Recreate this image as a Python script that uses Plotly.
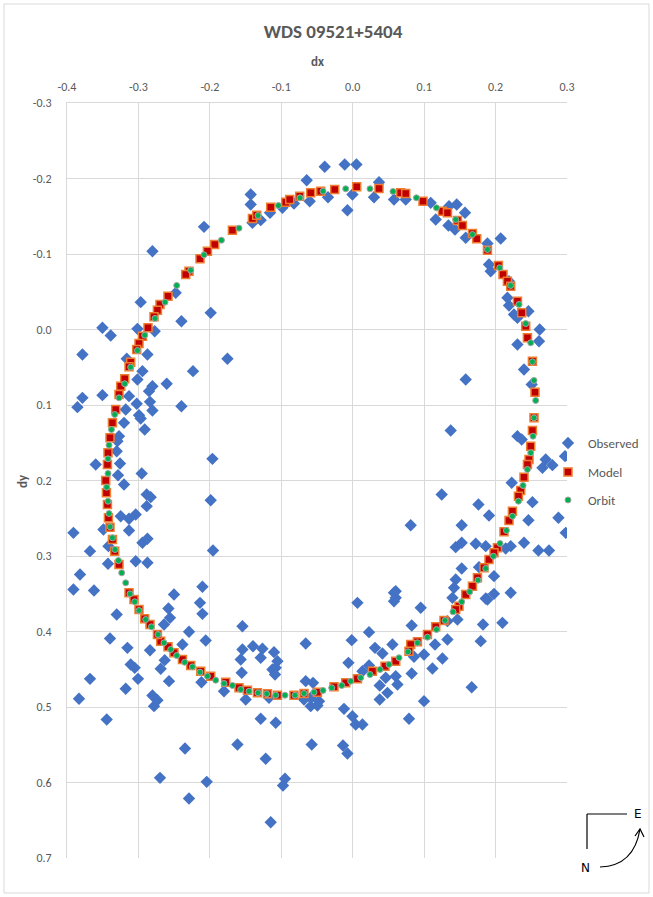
import plotly.graph_objects as go

# ---------------- data ----------------
obs_dx = [-0.2082,-0.2804,-0.2968,-0.1988,-0.2398,-0.3504,-0.3388,-0.3014,-0.2772,-0.3784,
          -0.2874,-0.3164,-0.1754,-0.2236,-0.2944,-0.3014,-0.2804,-0.2604,-0.2852,-0.3504,
          -0.3784,-0.3132,-0.2478,
          -0.0392,-0.0112,0.0052,-0.0644,-0.1428,-0.1428,-0.0074,-0.0346,-0.0004,-0.0602,
          0.0368,0.0298,0.0578,-0.1158,-0.1404,-0.1288,-0.0984,-0.0822,
          0.1456,0.1572,0.1348,0.1162,0.1340,0.1432,0.1582,0.1886,0.2072,0.0742,0.1092,
          0.1908,0.1932,0.2188,0.2166,0.2188,0.2258,0.2460,0.2618,0.2608,0.2306,0.2398,
          0.1582,0.2506,0.2306,
          -0.3854,-0.3024,-0.3178,-0.2838,-0.2804,-0.2992,-0.2968,-0.2398,-0.3202,-0.2912,
          -0.3272,-0.3294,-0.3304,-0.1964,-0.3598,-0.3258,-0.2954,-0.3286,-0.3202,-0.2884,
          -0.2828,-0.2884,-0.1988,-0.3248,-0.3132,-0.3038,-0.3910,-0.3490,-0.3132,-0.2944,
          -0.2874,-0.3678,-0.3420,-0.1956,-0.3426,-0.3038,-0.2874,-0.3818,-0.3910,-0.3622,
          -0.2104,-0.2502,-0.2138,-0.2580,-0.2104,-0.3304,-0.2642,-0.2558,-0.2292,-0.3398,
          -0.2058,
          -0.3154,-0.2838,-0.2384,-0.2632,-0.2688,-0.3108,-0.3052,-0.3006,-0.3678,-0.3178,
          -0.2572,-0.2118,-0.1802,-0.3832,-0.2804,-0.2734,-0.2782,-0.3444,-0.2348,-0.2698,
          -0.2044,-0.2292,
          0.1372,0.2306,0.2366,0.2702,0.2656,0.2796,0.2972,0.2226,0.1246,0.1760,0.2516,
          0.1908,0.0812,0.1526,0.2460,0.2880,0.2982,0.1442,0.1526,0.1722,0.1862,0.2142,
          0.2212,0.2398,0.2600,0.2748,0.1526,0.1768,0.1978,0.1442,0.1418,0.1396,0.1862,
          0.1978,0.2212,0.0952,0.0602,0.0602,0.1466,0.1326,0.0826,0.1824,0.2096,0.1326,
          0.1792,0.1886,
          0.1152,0.0998,0.1256,0.0858,0.1116,0.0826,0.0602,0.0626,0.1666,0.0998,0.0788,
          0.0066,0.0578,-0.1544,0.0228,-0.0658,-0.0014,-0.1544,-0.1396,-0.1264,-0.1102,
          -0.1568,-0.1288,-0.1054,-0.1078,-0.1124,-0.1088,-0.1554,-0.0060,0.0312,0.0416,
          0.0556,0.0228,-0.0658,-0.0556,0.0136,0.0462,0.0378,0.0486,0.0378,-0.1498,
          -0.1172,-0.0588,-0.0472,-0.0588,-0.0494,-0.0682,-0.0122,-0.0004,0.0042,0.0136,
          -0.1288,-0.1078,-0.1614,-0.0574,-0.0136,-0.0074,-0.1218,-0.0948,-0.0976,-0.1148,
          0.0578]
obs_dy = [-0.1360,-0.1037,-0.0362,-0.0221,-0.0110,-0.0023,0.0079,-0.0009,0.0023,0.0331,
          0.0331,0.0388,0.0388,0.0552,0.0552,0.0662,0.0751,0.0719,0.0817,0.0870,
          0.0905,0.0883,-0.0486,
          -0.2155,-0.2185,-0.2185,-0.1977,-0.1788,-0.1656,-0.1580,-0.1752,-0.1788,-0.1699,
          -0.1951,-0.1752,-0.1722,-0.1546,-0.1413,-0.1448,-0.1612,-0.1669,
          -0.1656,-0.1546,-0.1633,-0.1457,-0.1377,-0.1325,-0.1215,-0.1139,-0.1205,-0.1722,-0.1678,
          -0.0861,-0.0772,-0.0640,-0.0420,-0.0318,-0.0199,-0.0242,0.0000,0.0155,0.0199,0.0530,
          0.0662,0.0728,-0.0155,
          0.1029,0.0984,0.1060,0.0958,0.1073,0.1135,0.1179,0.1016,0.1236,0.1325,
          0.1413,0.1479,0.1612,0.1713,0.1788,0.1775,0.1907,0.1930,0.2053,0.2185,
          0.2221,0.2340,0.2261,0.2473,0.2507,0.2450,0.2693,0.2649,0.2662,0.2825,
          0.2772,0.2936,0.2870,0.2927,0.3103,0.3069,0.3090,0.3245,0.3444,0.3457,
          0.3408,0.3510,0.3620,0.3695,0.3766,0.3775,0.3907,0.3819,0.4004,0.4093,
          0.4119,
          0.4216,0.4248,0.4172,0.4380,0.4494,0.4437,0.4481,0.4627,0.4627,0.4759,
          0.4658,0.4672,0.4791,0.4891,0.4848,0.4910,0.4989,0.5166,0.5550,0.5938,
          0.5991,0.6212,
          0.1338,0.1413,0.1457,0.1722,0.1832,0.1797,0.1678,0.2030,0.2185,0.2318,0.2287,
          0.2464,0.2592,0.2592,0.2526,0.2494,0.2693,0.2883,0.2825,0.2838,0.2870,0.2900,
          0.2870,0.2825,0.2927,0.2927,0.3165,0.3148,0.3267,0.3311,0.3421,0.3554,0.3563,
          0.3501,0.3487,0.3686,0.3466,0.3554,0.3841,0.3863,0.3920,0.3907,0.3885,0.4106,
          0.4128,0.3576,
          0.4172,0.4305,0.4358,0.4335,0.4490,0.4556,0.4592,0.4702,0.4738,0.4923,0.5156,
          0.3620,0.3599,0.3930,0.4009,0.4159,0.4115,0.4238,0.4195,0.4229,0.4274,
          0.4371,0.4348,0.4393,0.4481,0.4503,0.4570,0.4547,0.4415,0.4216,0.4291,
          0.4172,0.4450,0.4658,0.4680,0.4526,0.4613,0.4715,0.4812,0.4901,0.4901,
          0.4878,0.4878,0.4923,0.4989,0.4980,0.4901,0.5024,0.5122,0.5232,0.5232,
          0.5156,0.5209,0.5497,0.5497,0.5510,0.5616,0.5686,0.5951,0.6040,0.6526,
          0.3487]

model_dx = [-0.1684,-0.1932,-0.2034,-0.2138,-0.2292,-0.2338,-0.2586,-0.2698,-0.2734,-0.2782,
            -0.2866,-0.2944,-0.2992,-0.3024,-0.3108,-0.3132,-0.3192,-0.3248,-0.3272,
            -0.1404,-0.1344,-0.1148,-0.0938,-0.0882,-0.0742,-0.0588,-0.0448,-0.0252,0.0056,
            0.0368,0.0672,0.0742,
            0.0984,0.1256,0.1326,0.1466,0.1536,0.1676,0.1736,0.1886,0.2040,0.2104,0.2166,
            0.2212,0.2306,0.2366,0.2422,0.2446,0.2516,0.2552,
            0.2538,0.2516,0.2492,0.2468,0.2446,0.2398,0.2352,0.2320,0.2236,0.2188,0.2118,
            0.2026,0.1978,0.1908,0.1838,0.1746,0.1676,0.1582,0.1488,0.1442,0.1278,0.1162,
            0.1046,0.0906,0.0812,
            -0.2688,-0.2586,-0.2502,-0.2384,-0.2268,-0.2128,-0.1988,-0.1778,-0.1592,-0.1474,
            -0.1334,-0.1194,-0.1054,-0.0822,-0.0682,-0.0494,-0.0262,-0.0098,0.0066,0.0276,
            0.0452,0.0602,0.0788,
            -0.3318,-0.3364,-0.3398,-0.3426,-0.3434,-0.3458,-0.3448,-0.3434,-0.3420,-0.3398,
            -0.3364,-0.3332,-0.3272,-0.3132,-0.3062,-0.2992,-0.2912,-0.2838,-0.2734]
model_dy = [-0.1315,-0.1126,-0.1037,-0.0936,-0.0772,-0.0728,-0.0441,-0.0331,-0.0256,-0.0168,
            -0.0023,0.0089,0.0185,0.0265,0.0433,0.0494,0.0653,0.0751,0.0861,
            -0.1470,-0.1514,-0.1620,-0.1686,-0.1722,-0.1766,-0.1811,-0.1832,-0.1854,-0.1890,
            -0.1868,-0.1811,-0.1801,
            -0.1699,-0.1567,-0.1546,-0.1444,-0.1377,-0.1272,-0.1201,-0.1050,-0.0848,-0.0728,-0.0640,
            -0.0574,-0.0375,-0.0221,-0.0044,0.0110,0.0420,0.0830,
            0.1170,0.1338,0.1546,0.1722,0.1788,0.1956,0.2132,0.2208,0.2407,0.2530,0.2679,
            0.2891,0.2958,0.3046,0.3156,0.3289,0.3400,0.3510,0.3665,0.3709,0.3854,0.3938,
            0.4040,0.4136,0.4172,
            0.4128,0.4203,0.4282,0.4371,0.4450,0.4526,0.4592,0.4672,0.4746,0.4777,
            0.4812,0.4825,0.4844,0.4844,0.4821,0.4804,0.4732,0.4680,0.4627,0.4526,
            0.4460,0.4393,0.4261,
            0.1060,0.1236,0.1434,0.1633,0.1788,0.2000,0.2163,0.2318,0.2494,0.2619,
            0.2781,0.2936,0.3113,0.3487,0.3576,0.3709,0.3832,0.3907,0.4040]

orbit_dx = [-0.1838,-0.2082,-0.2268,-0.2464,-0.2628,-0.2768,-0.2912,-0.3014,-0.3108,-0.3192,-0.3272,
            -0.1592,-0.1326,-0.1040,-0.0738,-0.0416,-0.0098,0.0242,0.0564,
            0.0892,0.1172,0.1442,0.1676,0.1886,0.2058,0.2212,0.2328,0.2422,0.2492,0.2516,0.2538,
            0.2562,0.2538,0.2524,0.2492,0.2446,0.2384,0.2320,0.2236,0.2152,0.2062,0.1970,
            0.1862,0.1754,0.1638,0.1526,0.1404,0.1292,0.1172,0.1046,0.0906,
            0.0774,0.0648,0.0508,0.0382,0.0242,0.0112,-0.0028,-0.0154,-0.0294,-0.0416,
            -0.0542,-0.0682,-0.0808,-0.0948,-0.1078,-0.1204,-0.1326,-0.1452,-0.1568,-0.1684,
            -0.1802,-0.1918,-0.2034,-0.2138,-0.2244,-0.2352,-0.2464,-0.2548,-0.2642,
            -0.2726,-0.2818,-0.2898,-0.2992,-0.3052,-0.3118,-0.3178,-0.3234,-0.3280,-0.3328,
            -0.3364,-0.3398,-0.3412,-0.3426,-0.3444,-0.3426,-0.3426,-0.3412,-0.3378,-0.3332]
orbit_dy = [-0.1183,-0.0989,-0.0785,-0.0583,-0.0362,-0.0146,0.0075,0.0278,0.0499,0.0719,0.0905,
            -0.1342,-0.1510,-0.1642,-0.1744,-0.1832,-0.1864,-0.1864,-0.1828,
            -0.1744,-0.1612,-0.1457,-0.1258,-0.1060,-0.0817,-0.0583,-0.0331,-0.0079,0.0176,0.0428,0.0675,
            0.0940,0.1170,0.1413,0.1633,0.1854,0.2066,0.2274,0.2473,0.2662,0.2834,0.3003,
            0.3165,0.3320,0.3474,0.3607,0.3739,0.3854,0.3974,0.4075,0.4150,
            0.4269,0.4348,0.4437,0.4503,0.4570,0.4613,0.4658,0.4715,0.4746,0.4781,
            0.4804,0.4821,0.4844,0.4844,0.4844,0.4825,0.4812,0.4791,0.4768,0.4715,
            0.4689,0.4645,0.4592,0.4539,0.4468,0.4407,0.4318,0.4238,0.4150,
            0.4040,0.3938,0.3841,0.3722,0.3607,0.3501,0.3355,0.3223,0.3060,0.2914,
            0.2759,0.2613,0.2437,0.2274,0.2089,0.1907,0.1713,0.1532,0.1325,0.1126]

x_tickvals = [-0.4, -0.3, -0.2, -0.1, 0.0, 0.1, 0.2, 0.3]
x_ticktext = ["-0.4", "-0.3", "-0.2", "-0.1", "0.0", "0.1", "0.2", "0.3"]
y_tickvals = [-0.3, -0.2, -0.1, 0.0, 0.1, 0.2, 0.3, 0.4, 0.5, 0.6, 0.7]
y_ticktext = ["-0.3", "-0.2", "-0.1", "0.0", "0.1", "0.2", "0.3", "0.4", "0.5", "0.6", "0.7"]

# ---------------- figure ----------------
FONT = "Carlito, Liberation Sans Narrow, Liberation Sans, Arial, sans-serif"
GRAY = "#595959"
GRID = "#D9D9D9"
W, H = 653, 897

fig = go.Figure()
fig.add_trace(go.Scatter(
    x=obs_dx, y=obs_dy, mode="markers", name="Observed", legend="legend",
    marker=dict(symbol="diamond", size=9.5, color="#4472C4", line=dict(width=0))))
fig.add_trace(go.Scatter(
    x=model_dx, y=model_dy, mode="markers", name="Model", legend="legend2",
    marker=dict(symbol="square", size=8, color="#C00000",
                line=dict(width=1.5, color="#ED7D31"))))
fig.add_trace(go.Scatter(
    x=orbit_dx, y=orbit_dy, mode="markers", name="Orbit", legend="legend3",
    marker=dict(symbol="circle", size=6, color="#00B050",
                line=dict(width=1, color="#A5A5A5"))))

leg_common = dict(xref="container", yref="container", x=548 / W, xanchor="left",
                  yanchor="middle", bgcolor="rgba(0,0,0,0)",
                  font=dict(family=FONT, size=13, color=GRAY), itemwidth=30)

fig.update_layout(
    width=W, height=H,
    margin=dict(l=67, r=86, t=103, b=39, autoexpand=False),
    paper_bgcolor="white", plot_bgcolor="white",
    font=dict(family=FONT, color=GRAY),
    title=dict(text="<b>WDS 09521+5404</b>", x=0.51, xanchor="center",
               xref="container", y=1 - 31 / H, yref="container", yanchor="middle",
               font=dict(family=FONT, size=19, color=GRAY)),
    showlegend=True,
    legend=dict(y=1 - 443 / H, **leg_common),
    legend2=dict(y=1 - 472 / H, **leg_common),
    legend3=dict(y=1 - 500 / H, **leg_common),
    xaxis=dict(side="top", range=[-0.4, 0.3], tickvals=x_tickvals, ticktext=x_ticktext,
               showgrid=True, gridcolor=GRID, gridwidth=1, zeroline=False,
               showline=True, linecolor=GRID, ticks="", ticklabelstandoff=6,
               tickfont=dict(family=FONT, size=12, color=GRAY)),
    yaxis=dict(range=[0.7, -0.3], tickvals=y_tickvals, ticktext=y_ticktext,
               showgrid=True, gridcolor=GRID, gridwidth=1, zeroline=False,
               showline=True, linecolor=GRID, ticks="", ticklabelstandoff=12,
               tickfont=dict(family=FONT, size=12, color=GRAY)),
    annotations=[
        dict(text="<b>dx</b>", xref="paper", yref="paper", x=0.5, y=(858 - 62) / 755,
             showarrow=False, xanchor="center", yanchor="middle",
             font=dict(family=FONT, size=13, color=GRAY)),
        dict(text="<b>dy</b>", xref="paper", yref="paper", x=(22 - 67) / 500, y=(858 - 481) / 755,
             showarrow=False, xanchor="center", yanchor="middle", textangle=-90,
             font=dict(family=FONT, size=13, color=GRAY)),
        dict(text="E", xref="paper", yref="paper", x=(638 - 67) / 500, y=(858 - 814) / 755,
             showarrow=False, xanchor="center", yanchor="middle",
             font=dict(family="DejaVu Sans", size=12, color="#000000")),
        dict(text="N", xref="paper", yref="paper", x=(585 - 67) / 500, y=(858 - 868) / 755,
             showarrow=False, xanchor="center", yanchor="middle",
             font=dict(family="DejaVu Sans", size=12, color="#000000")),
    ],
)

def px(x):
    return (x - 67) / 500

def py(y):
    return (858 - y) / 755

shapes = [
    # outer chart border
    dict(type="rect", xref="paper", yref="paper", x0=px(4), x1=px(649), y0=py(893), y1=py(4),
         line=dict(color=GRID, width=1)),
    # compass
    dict(type="line", xref="paper", yref="paper", x0=px(587), x1=px(627), y0=py(814), y1=py(814),
         line=dict(color="black", width=1.2)),
    dict(type="line", xref="paper", yref="paper", x0=px(587), x1=px(587), y0=py(814), y1=py(849),
         line=dict(color="black", width=1.2)),
    dict(type="path", xref="paper", yref="paper",
         path=f"M {px(600)},{py(867)} Q {px(634)},{py(866)} {px(640)},{py(829)}",
         line=dict(color="black", width=1.2)),
    dict(type="path", xref="paper", yref="paper",
         path=f"M {px(635)},{py(836)} L {px(640)},{py(829)} L {px(644)},{py(837)}",
         line=dict(color="black", width=1.2)),
]
fig.update_layout(shapes=shapes)

fig.write_html("out.html", config={"displayModeBar": False},
               post_script="document.body.style.margin='0px';")
